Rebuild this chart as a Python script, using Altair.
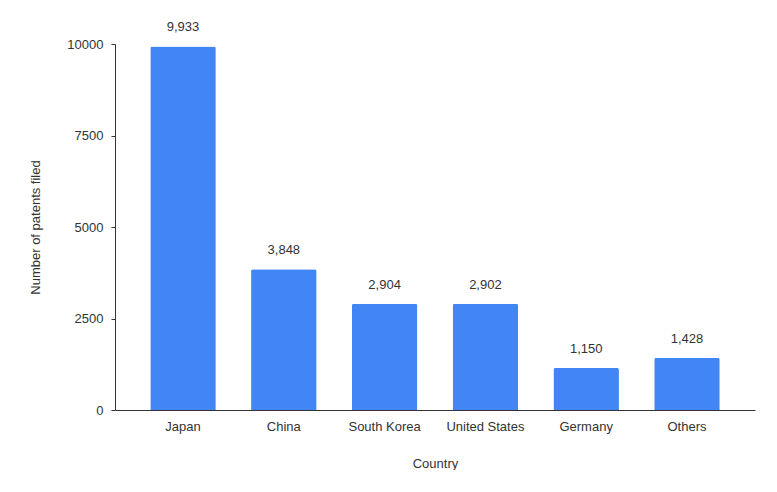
import altair as alt
import pandas as pd

countries = ["Japan", "China", "South Korea", "United States", "Germany", "Others"]
patents = [9933, 3848, 2904, 2902, 1150, 1428]

df = pd.DataFrame({"Country": countries, "Patents": patents})

FONT = "Liberation Sans"
TXT = "#333333"

base = alt.Chart(df).encode(
    x=alt.X(
        "Country:N",
        sort=countries,
        scale=alt.Scale(paddingInner=0.35, paddingOuter=0.35),
        axis=alt.Axis(
            title="Country",
            labelAngle=0,
            ticks=False,
            labelPadding=10,
            domainColor="#333333",
            labelColor=TXT,
            labelFont=FONT,
            labelFontSize=13,
            titleFont=FONT,
            titleFontSize=13,
            titleFontWeight="normal",
            titleColor=TXT,
            titleY=53,
            titleBaseline="middle",
        ),
    ),
    y=alt.Y(
        "Patents:Q",
        scale=alt.Scale(domain=[0, 10000], nice=False),
        axis=alt.Axis(
            title="Number of patents filed",
            values=[0, 2500, 5000, 7500, 10000],
            format="d",
            grid=False,
            tickSize=4,
            tickColor="#333333",
            domainColor="#333333",
            labelPadding=8,
            labelColor=TXT,
            labelFont=FONT,
            labelFontSize=13,
            titleFont=FONT,
            titleFontSize=13,
            titleFontWeight="normal",
            titleColor=TXT,
            titleX=-80,
            titleY=183,
            titleAngle=270,
            titleAlign="center",
            titleBaseline="middle",
        ),
    ),
)

bars = base.mark_bar(color="#4285F4", cornerRadiusTopLeft=2, cornerRadiusTopRight=2)

labels = base.mark_text(
    dy=-12, baseline="bottom", font=FONT, fontSize=13, color=TXT
).encode(text=alt.Text("Patents:Q", format=","))

chart = (
    alt.layer(bars, labels)
    .properties(
        width=640,
        height=366,
        autosize=alt.AutoSizeParams(type="none"),
        padding={"left": 107, "top": 36, "right": 14, "bottom": 60},
        background="white",
    )
    .configure_view(stroke=None)
)

chart.save("out.html", embed_options={"renderer": "svg", "actions": False})
